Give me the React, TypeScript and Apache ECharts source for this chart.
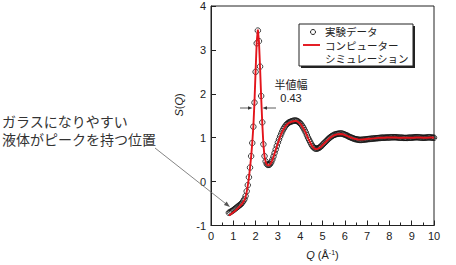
import React, { useEffect, useRef } from "react";
import * as echarts from "echarts";

// 実験データ: Q (Å^-1)
const qExperiment: number[] = [
  0.8, 0.85, 0.9, 0.95, 1.0, 1.05, 1.1, 1.15, 1.2, 1.25, 1.3, 1.35, 1.4, 1.45, 1.5,
  1.55, 1.6, 1.65, 1.7, 1.75, 1.8, 1.85, 1.9, 1.95, 2.0, 2.05, 2.1, 2.15, 2.2, 2.25,
  2.3, 2.35, 2.4, 2.45, 2.5, 2.55, 2.6, 2.65, 2.7, 2.75, 2.8, 2.85, 2.9, 2.95, 3.0,
  3.05, 3.1, 3.15, 3.2, 3.25, 3.3, 3.35, 3.4, 3.45, 3.5, 3.55, 3.6, 3.65, 3.7, 3.75,
  3.8, 3.85, 3.9, 3.95, 4.0, 4.05, 4.1, 4.15, 4.2, 4.25, 4.3, 4.35, 4.4, 4.45, 4.5,
  4.55, 4.6, 4.65, 4.7, 4.75, 4.8, 4.85, 4.9, 4.95, 5.0,
  5.05, 5.1, 5.15, 5.2, 5.25, 5.3, 5.35, 5.4, 5.45, 5.5, 5.55, 5.6, 5.65, 5.7, 5.75,
  5.8, 5.85, 5.9, 5.95, 6.0, 6.05, 6.1, 6.15, 6.2, 6.25, 6.3, 6.35, 6.4, 6.45, 6.5,
  6.55, 6.6, 6.65, 6.7, 6.75, 6.8, 6.85, 6.9, 6.95, 7.0, 7.05, 7.1, 7.15, 7.2, 7.25,
  7.3, 7.35, 7.4, 7.45, 7.5, 7.55, 7.6, 7.65, 7.7, 7.75, 7.8, 7.85, 7.9, 7.95, 8.0,
  8.05, 8.1, 8.15, 8.2, 8.25, 8.3, 8.35, 8.4, 8.45, 8.5, 8.55, 8.6, 8.65, 8.7, 8.75,
  8.8, 8.85, 8.9, 8.95, 9.0, 9.05, 9.1, 9.15, 9.2, 9.25, 9.3, 9.35, 9.4, 9.45, 9.5,
  9.55, 9.6, 9.65, 9.7, 9.75, 9.8, 9.85, 9.9, 9.95, 10.0,
];

// 実験データ: S(Q)
const sExperiment: number[] = [
  -0.71, -0.7, -0.68, -0.67, -0.65, -0.63, -0.61, -0.59, -0.57, -0.55, -0.53, -0.51, -0.48, -0.44, -0.4,
  -0.33, -0.22, -0.08, 0.1, 0.32, 0.58, 0.88, 1.25, 1.8, 2.5, 3.15, 3.44, 3.2, 2.62, 1.95,
  1.35, 0.85, 0.58, 0.46, 0.4, 0.38, 0.38, 0.4, 0.44, 0.5, 0.57, 0.65, 0.73, 0.81, 0.89,
  0.96, 1.03, 1.09, 1.15, 1.2, 1.24, 1.28, 1.31, 1.33, 1.35, 1.36, 1.37, 1.38, 1.385, 1.39,
  1.39, 1.385, 1.37, 1.35, 1.33, 1.3, 1.26, 1.22, 1.17, 1.12, 1.06, 1.0, 0.95, 0.9, 0.85,
  0.81, 0.78, 0.76, 0.75, 0.75, 0.76, 0.77, 0.79, 0.81, 0.84,
  0.865, 0.89, 0.915, 0.94, 0.965, 0.99, 1.01, 1.03, 1.045, 1.06, 1.07, 1.08, 1.085, 1.09, 1.095,
  1.095, 1.095, 1.09, 1.08, 1.07, 1.06, 1.05, 1.035, 1.02, 1.01, 1.0, 0.99, 0.98, 0.97, 0.965,
  0.96, 0.955, 0.95, 0.95, 0.95, 0.955, 0.955, 0.96, 0.96, 0.965, 0.97, 0.97, 0.975, 0.975, 0.98,
  0.98, 0.985, 0.985, 0.99, 0.99, 0.995, 0.995, 1.0, 1.0, 1.0, 1.0, 1.005, 1.005, 1.005, 1.005,
  1.01, 1.01, 1.01, 1.01, 1.01, 1.01, 1.005, 1.005, 1.0, 1.0, 1.0, 1.0, 0.995, 0.995, 0.995,
  0.995, 1.0, 1.0, 1.0, 1.0, 1.005, 1.005, 1.01, 1.01, 1.01, 1.01, 1.005, 1.005, 1.0, 1.0,
  1.0, 1.0, 1.005, 1.005, 1.01, 1.01, 1.005, 1.005, 1.0, 1.0,
];

// コンピューターシミュレーション: Q (Å^-1)
const qSimulation: number[] = [
  0.8, 0.85, 0.9, 0.95, 1.0, 1.05, 1.1, 1.15, 1.2, 1.25, 1.3, 1.35, 1.4, 1.45, 1.5,
  1.55, 1.6, 1.65, 1.7, 1.75, 1.8, 1.85, 1.9, 1.95, 2.0, 2.05, 2.1, 2.15, 2.2, 2.25,
  2.3, 2.35, 2.4, 2.45, 2.5, 2.55, 2.6, 2.65, 2.7, 2.75, 2.8, 2.85, 2.9, 2.95, 3.0,
  3.05, 3.1, 3.15, 3.2, 3.25, 3.3, 3.35, 3.4, 3.45, 3.5, 3.55, 3.6, 3.65, 3.7, 3.75,
  3.8, 3.85, 3.9, 3.95, 4.0, 4.05, 4.1, 4.15, 4.2, 4.25, 4.3, 4.35, 4.4, 4.45, 4.5,
  4.55, 4.6, 4.65, 4.7, 4.75, 4.8, 4.85, 4.9, 4.95, 5.0,
  5.1, 5.2, 5.3, 5.4, 5.5, 5.6, 5.7, 5.8, 5.9, 6.0,
  6.1, 6.2, 6.3, 6.4, 6.5, 6.6, 6.7, 6.8, 6.9, 7.0,
  7.1, 7.2, 7.3, 7.4, 7.5, 7.6, 7.7, 7.8, 7.9, 8.0,
  8.1, 8.2, 8.3, 8.4, 8.5, 8.6, 8.7, 8.8, 8.9, 9.0,
  9.1, 9.2, 9.3, 9.4, 9.5, 9.6, 9.7, 9.8, 9.9, 10.0,
];

// コンピューターシミュレーション: S(Q)
const sSimulation: number[] = [
  -0.77, -0.76, -0.74, -0.72, -0.7, -0.68, -0.66, -0.63, -0.61, -0.58, -0.56, -0.53, -0.5, -0.46, -0.42,
  -0.35, -0.24, -0.09, 0.09, 0.31, 0.57, 0.88, 1.26, 1.82, 2.52, 3.18, 3.46, 3.2, 2.6, 1.92,
  1.32, 0.84, 0.57, 0.45, 0.39, 0.37, 0.37, 0.39, 0.43, 0.49, 0.56, 0.64, 0.72, 0.8, 0.88,
  0.95, 1.02, 1.08, 1.14, 1.19, 1.23, 1.27, 1.3, 1.32, 1.34, 1.35, 1.36, 1.37, 1.375, 1.38,
  1.38, 1.375, 1.36, 1.34, 1.32, 1.29, 1.25, 1.21, 1.16, 1.11, 1.05, 0.99, 0.94, 0.89, 0.84,
  0.8, 0.77, 0.75, 0.74, 0.74, 0.75, 0.76, 0.78, 0.8, 0.83,
  0.88, 0.93, 0.98, 1.02, 1.05, 1.07, 1.08, 1.085, 1.08, 1.06,
  1.04, 1.02, 1.0, 0.98, 0.97, 0.96, 0.955, 0.96, 0.965, 0.97,
  0.975, 0.98, 0.985, 0.99, 0.995, 1.0, 1.0, 1.0, 1.005, 1.005,
  1.005, 1.005, 1.005, 1.0, 1.0, 1.0, 1.0, 1.0, 1.0, 1.0,
  1.0, 1.005, 1.005, 1.005, 1.0, 1.0, 1.0, 1.005, 1.005, 1.0,
];

const xTicks = { min: 0, max: 10, interval: 1 };
const yTicks = { min: -1, max: 4, interval: 1 };

const JP = '"Noto Sans CJK JP", "Liberation Sans", sans-serif';
const LAT = '"Liberation Sans", Arial, sans-serif';

export default function App() {
  const ref = useRef<HTMLDivElement>(null);
  useEffect(() => {
    if (!ref.current) return;
    const chart = echarts.init(ref.current, undefined, { renderer: "svg" });
    const expData = qExperiment.map((q, i) => [q, sExperiment[i]]);
    const simData = qSimulation.map((q, i) => [q, sSimulation[i]]);

    const dir = [0.789, 0.615];
    const tip = [230, 207];

    chart.setOption({
      animation: false,
      backgroundColor: "#ffffff",
      grid: {
        left: 211,
        top: 6,
        width: 223,
        height: 225,
        show: true,
        borderColor: "#222",
        borderWidth: 1,
        backgroundColor: "transparent",
      },
      xAxis: {
        type: "value",
        min: xTicks.min,
        max: xTicks.max,
        interval: xTicks.interval,
        axisLine: { onZero: false, lineStyle: { color: "#222", width: 1 } },
        axisTick: { inside: true, length: 5, lineStyle: { color: "#222" } },
        minorTick: { show: true, splitNumber: 2, length: 3, lineStyle: { color: "#222" } },
        splitLine: { show: false },
        axisLabel: { color: "#222", fontSize: 11, fontFamily: LAT, margin: 5 },
        name: "{i|Q} (Å{s|-1})",
        nameLocation: "middle",
        nameGap: 23,
        nameTextStyle: {
          color: "#222",
          fontSize: 11,
          fontFamily: LAT,
          rich: {
            i: { fontStyle: "italic", fontSize: 11, fontFamily: LAT, color: "#222" },
            s: { fontSize: 7, verticalAlign: "top", fontFamily: LAT, color: "#222", padding: [0, 0, 5, 0] },
          },
        },
      },
      yAxis: {
        type: "value",
        min: yTicks.min,
        max: yTicks.max,
        interval: yTicks.interval,
        axisLine: { show: true, onZero: false, lineStyle: { color: "#222", width: 1 } },
        axisTick: { show: true, inside: true, length: 5, lineStyle: { color: "#222" } },
        splitLine: { show: false },
        axisLabel: { color: "#222", fontSize: 11, fontFamily: LAT, margin: 5 },
      },
      series: [
        {
          name: "実験データ",
          type: "scatter",
          data: expData,
          symbol: "circle",
          symbolSize: 5.5,
          itemStyle: { color: "rgba(255,255,255,0)", borderColor: "#111", borderWidth: 1 },
          z: 2,
        },
        {
          name: "コンピューターシミュレーション",
          type: "line",
          data: simData,
          showSymbol: false,
          symbol: "none",
          lineStyle: { color: "#e3141b", width: 1.9 },
          z: 3,
        },
      ],
      graphic: [
        // legend box
        { type: "rect", shape: { x: 301, y: 26, width: 114, height: 42 }, style: { fill: "#222" }, z: 10 },
        { type: "rect", shape: { x: 299, y: 24, width: 114, height: 42 }, style: { fill: "#fff", stroke: "#222", lineWidth: 1 }, z: 11 },
        { type: "circle", shape: { cx: 313, cy: 32, r: 2.5 }, style: { fill: "#fff", stroke: "#222", lineWidth: 1 }, z: 12 },
        { type: "text", x: 325, y: 31.5, style: { text: "実験データ", fontSize: 10.5, lineHeight: 11, fontFamily: JP, fill: "#222", verticalAlign: "middle" }, z: 12 },
        { type: "line", shape: { x1: 303, y1: 45, x2: 320, y2: 45 }, style: { stroke: "#e3141b", lineWidth: 1.9 }, z: 12 },
        { type: "text", x: 325, y: 45, style: { text: "コンピューター", fontSize: 10.5, lineHeight: 11, fontFamily: JP, fill: "#222", verticalAlign: "middle" }, z: 12 },
        { type: "text", x: 325, y: 58.5, style: { text: "シミュレーション", fontSize: 10.5, lineHeight: 11, fontFamily: JP, fill: "#222", verticalAlign: "middle" }, z: 12 },
        // y axis name
        {
          type: "text",
          x: 179,
          y: 105,
          rotation: Math.PI / 2,
          style: {
            text: "{i|S}({i|Q})",
            fontSize: 11,
            fontFamily: LAT,
            fill: "#222",
            align: "center",
            verticalAlign: "middle",
            rich: { i: { fontStyle: "italic", fontSize: 11, fontFamily: LAT, fill: "#222" } },
          },
        },
        // FWHM annotation
        { type: "text", x: 291, y: 84, style: { text: "半値幅", fontSize: 11, lineHeight: 12, fontFamily: JP, fill: "#222", align: "center", verticalAlign: "middle" } },
        { type: "text", x: 291, y: 98, style: { text: "0.43", fontSize: 11, lineHeight: 12, fontFamily: LAT, fill: "#222", align: "center", verticalAlign: "middle" } },
        { type: "line", shape: { x1: 240, y1: 108, x2: 249, y2: 108 }, style: { stroke: "#333", lineWidth: 0.8 }, z: 12 },
        { type: "polygon", shape: { points: [[252.5, 108], [248, 106.2], [248, 109.8]] }, style: { fill: "#333" }, z: 12 },
        { type: "line", shape: { x1: 266, y1: 108, x2: 276, y2: 108 }, style: { stroke: "#333", lineWidth: 0.8 }, z: 12 },
        { type: "polygon", shape: { points: [[262.5, 108], [267, 106.2], [267, 109.8]] }, style: { fill: "#333" }, z: 12 },
        // left annotation
        { type: "text", x: 2, y: 120.5, style: { text: "ガラスになりやすい", fontSize: 14, lineHeight: 17, fontFamily: JP, fill: "#333", verticalAlign: "middle" } },
        { type: "text", x: 2, y: 139, style: { text: "液体がピークを持つ位置", fontSize: 14, lineHeight: 17, fontFamily: JP, fill: "#333", verticalAlign: "middle" } },
        {
          type: "line",
          shape: { x1: 155, y1: 148, x2: tip[0] - dir[0] * 5, y2: tip[1] - dir[1] * 5 },
          style: { stroke: "#666", lineWidth: 0.8 },
          z: 12,
        },
        {
          type: "polygon",
          shape: {
            points: [
              [tip[0], tip[1]],
              [tip[0] - dir[0] * 6 - dir[1] * 2.2, tip[1] - dir[1] * 6 + dir[0] * 2.2],
              [tip[0] - dir[0] * 6 + dir[1] * 2.2, tip[1] - dir[1] * 6 - dir[0] * 2.2],
            ],
          },
          style: { fill: "#555" },
          z: 12,
        },
      ],
    });
    return () => chart.dispose();
  }, []);
  return (
    <div
      ref={ref}
      style={{ position: "fixed", left: 0, top: 0, width: 456, height: 265, background: "#fff" }}
    />
  );
}
